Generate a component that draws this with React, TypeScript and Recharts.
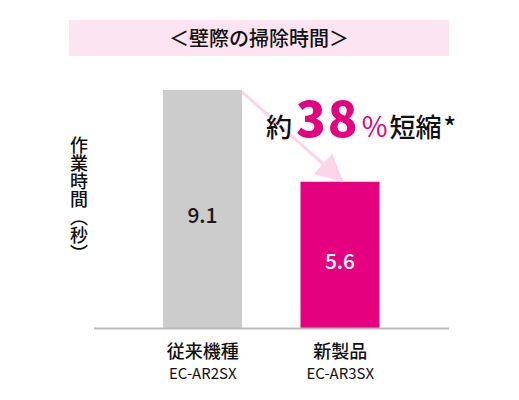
import React from 'react';
import { BarChart, Bar, XAxis, YAxis, Cell, LabelList, ReferenceLine } from 'recharts';

const categories = ['従来機種', '新製品'];
const models = ['EC-AR2SX', 'EC-AR3SX'];
const times = [9.1, 5.6];
const barColors = ['#cccccc', '#e4007f'];
const labelColors = ['#1a1a1a', '#ffffff'];
const yDomain = [0, 10];
const titleText = '＜壁際の掃除時間＞';
const yLabel = '作業時間（秒）';

const FONT = '"Noto Sans CJK JP", "Noto Sans", sans-serif';

const data = categories.map((c, i) => ({ name: c, model: models[i], value: times[i] }));

const CategoryTick = (props: any) => {
  const { x, y, payload, index } = props;
  const model = models[payload?.index ?? index] ?? '';
  return (
    <g>
      <text x={x} y={y + 21} textAnchor="middle" fontSize={18} fontWeight={500} fill="#111" fontFamily={FONT}>
        {payload.value}
      </text>
      <text x={x} y={y + 42} textAnchor="middle" fontSize={15} fontWeight={400} fill="#111" fontFamily={FONT}>
        {model}
      </text>
    </g>
  );
};

const ValueLabel = (props: any) => {
  const { x, y, width, height, value, index } = props;
  return (
    <text
      x={x + width / 2}
      y={y + height / 2 + 5}
      textAnchor="middle"
      dominantBaseline="central"
      fontSize={21}
      fontWeight={500}
      fill={labelColors[index]}
      fontFamily={FONT}
    >
      {value}
    </text>
  );
};

const ArrowShape = (props: any) => {
  const { x1, y1, x2, y2 } = props;
  const sx = x1 + 39.5;
  const sy = y1 + 2;
  const tx = x2 + 3;
  const ty = y2;
  const dx = tx - sx;
  const dy = ty - sy;
  const len = Math.sqrt(dx * dx + dy * dy);
  const ux = dx / len;
  const uy = dy / len;
  const headLen = 27;
  const headHalf = 14;
  const bx = tx - ux * headLen;
  const by = ty - uy * headLen;
  const px = -uy;
  const py = ux;
  const pts = `${tx},${ty} ${bx + px * headHalf},${by + py * headHalf} ${bx - px * headHalf},${by - py * headHalf}`;
  return (
    <g>
      <line x1={sx} y1={sy} x2={bx + ux * 2} y2={by + uy * 2} stroke="#fbd6ea" strokeWidth={3} />
      <polygon points={pts} fill="#fbd6ea" />
      <text x={266} y={137} fontFamily={FONT} fill="#111" fontWeight={500}>
        <tspan fontSize={26}>約</tspan>
        <tspan dx={4} fontSize={49} fontWeight={900} letterSpacing={2} fill="#e4007f">38</tspan>
        <tspan dx={2} fontSize={28} fontWeight={400} fill="#e4007f">%</tspan>
        <tspan dx={2} fontSize={26}>短縮</tspan>
        <tspan dx={2} fontSize={26}>*</tspan>
      </text>
    </g>
  );
};

const YLabelContent = () => (
  <text
    x={79}
    y={136}
    fontSize={18}
    fontWeight={500}
    fill="#111"
    fontFamily={FONT}
    style={{ writingMode: 'vertical-rl' as any }}
  >
    {yLabel}
  </text>
);

export default function App() {
  return (
    <div style={{ position: 'absolute', left: 0, top: 0, width: 519, height: 400, background: '#fff' }}>
      <div
        style={{
          position: 'absolute',
          left: 69,
          top: 19.5,
          width: 380,
          height: 36,
          background: '#fce4f0',
          color: '#111',
          fontFamily: FONT,
          fontWeight: 500,
          fontSize: 20,
          lineHeight: '36px',
          textAlign: 'center',
        }}
      >
        {titleText}
      </div>
      <div style={{ position: 'absolute', left: 0, top: 0 }}>
        <BarChart
          width={519}
          height={400}
          data={data}
          margin={{ top: 66.5, right: 70, bottom: 11.5, left: 0 }}
          barSize={79}
        >
          <XAxis
            dataKey="name"
            height={60}
            padding={{ left: 40, right: 40 }}
            axisLine={{ stroke: '#bbbbbb', strokeWidth: 2 }}
            tickLine={false}
            tick={<CategoryTick />}
            interval={0}
          />
          <YAxis
            width={94}
            domain={yDomain}
            tick={false}
            axisLine={false}
            tickLine={false}
            label={{ content: <YLabelContent /> } as any}
          />
          <Bar dataKey="value" isAnimationActive={false}>
            {data.map((d, i) => (
              <Cell key={d.name} fill={barColors[i]} />
            ))}
            <LabelList dataKey="value" content={<ValueLabel />} />
          </Bar>
          <ReferenceLine
            segment={[
              { x: categories[0], y: times[0] },
              { x: categories[1], y: times[1] },
            ]}
            shape={<ArrowShape />}
            ifOverflow="visible"
          />
        </BarChart>
      </div>
    </div>
  );
}
